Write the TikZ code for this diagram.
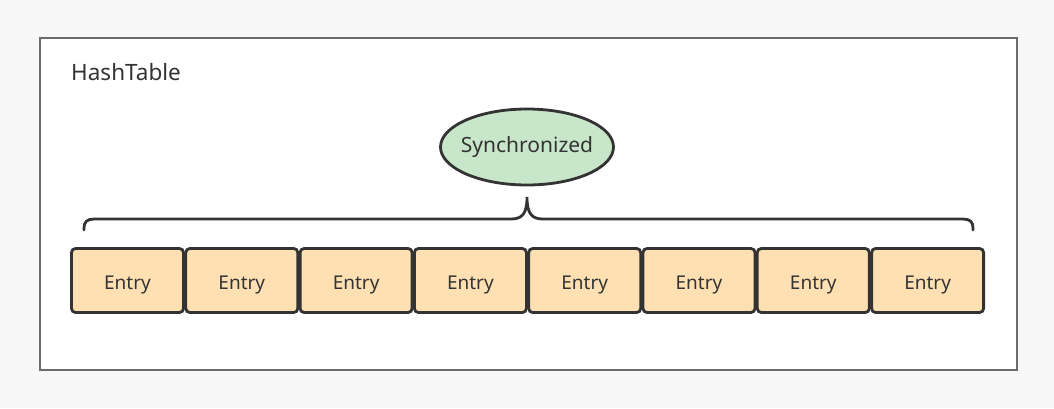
\documentclass[tikz,border=0pt]{standalone}
\usepackage{fontspec}
\setmainfont{Noto Sans}
\usetikzlibrary{shapes.geometric}
\definecolor{bgc}{HTML}{F7F7F7}
\definecolor{framec}{HTML}{6B6B6B}
\definecolor{inkc}{HTML}{333333}
\definecolor{entryc}{HTML}{FFE0B2}
\definecolor{syncc}{HTML}{C8E6C9}
\tikzset{
  entrybox/.style={draw=inkc, line width=2.8pt, fill=entryc, rounded corners=4pt,
    minimum width=112pt, minimum height=64pt, inner sep=0pt, text=inkc,
    text height=17.6pt, text depth=0pt,
    font=\fontsize{19}{22}\selectfont},
  syncnode/.style={ellipse, draw=inkc, line width=2.8pt, fill=syncc,
    minimum width=173pt, minimum height=76pt, inner xsep=-5pt, inner ysep=0pt, text=inkc,
    font=\fontsize{21}{24}\selectfont},
  bracec/.style={draw=inkc, line width=2.8pt, line cap=round}
}
\begin{document}
\begin{tikzpicture}[x=1pt,y=-1pt]
\useasboundingbox (0,0) rectangle (1054,408);
\fill[bgc] (0,0) rectangle (1054,408);
\draw[framec, line width=1.5pt, fill=white] (40,38) rectangle (1017,370);
\node[anchor=west, text=inkc, font=\fontsize{22.5}{26}\selectfont, inner sep=0pt] (title) at (71,72) {HashTable};
\node[syncnode] (sync) at (527,147) {Synchronized};
\foreach \i/\x in {1/127.5,2/241.8,3/356.1,4/470.4,5/584.7,6/699.0,7/813.3,8/927.6}{
  \node[entrybox] (e\i) at (\x,280.5) {Entry};
}
\coordinate (bl) at (84,230);
\coordinate (br) at (973,230);
\coordinate (tip) at (527,197);
\draw[bracec] (bl) -- (84,228) .. controls (84,222) and (87,219) .. (94,219) -- (511,219)
  .. controls (522,219) and (527,214) .. (tip)
  .. controls (527,214) and (532,219) .. (543,219) -- (963,219)
  .. controls (970,219) and (973,222) .. (973,228) -- (br);
\end{tikzpicture}
\end{document}
